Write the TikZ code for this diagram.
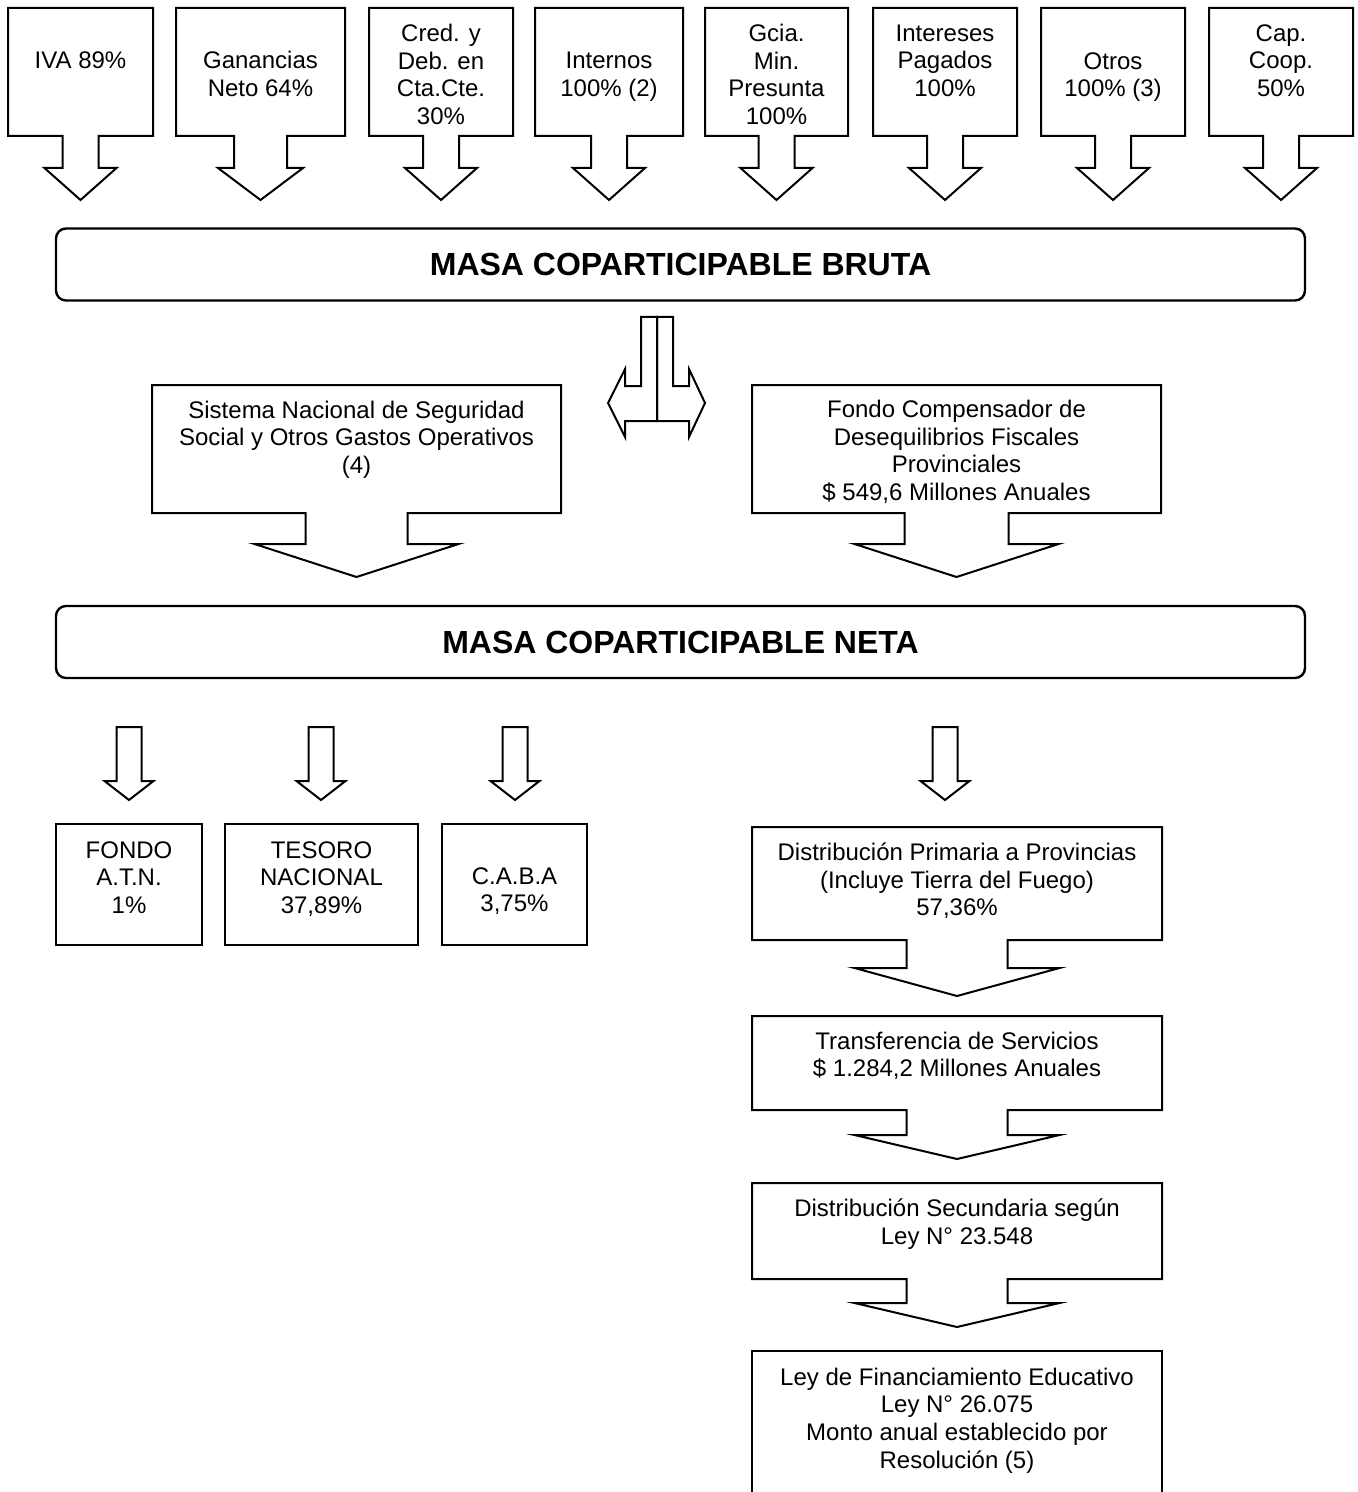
\documentclass[tikz,border=0pt]{standalone}
\usepackage{fontspec}
\setmainfont{Liberation Sans}
\usepackage{tikz}
\usetikzlibrary{positioning}

\tikzset{
  borde/.style={draw=black, line width=1pt, line join=miter},
  texto/.style={align=center, inner sep=0pt, font=\fontsize{12}{13.8}\selectfont},
  titulo/.style={draw=black, line width=1.2pt, rounded corners=5pt, minimum width=624.5pt,
    minimum height=36pt, inner sep=0pt, font=\fontsize{16}{19}\selectfont\bfseries},
}

% caja con flecha: x1, x2, y arriba, y abajo, medio ancho tallo, medio ancho punta, y base punta, y punta
\newcommand{\cajaflecha}[8]{%
  \pgfmathsetmacro{\cxm}{(#1+#2)/2}
  \draw[borde] (#1,#3) -- (#2,#3) -- (#2,#4) -- ({\cxm+#5},#4) -- ({\cxm+#5},#7)
    -- ({\cxm+#6},#7) -- (\cxm,#8) -- ({\cxm-#6},#7) -- ({\cxm-#5},#7) -- ({\cxm-#5},#4)
    -- (#1,#4) -- cycle;
}
\newcommand{\flechita}[1]{%
  \draw[borde] ({#1-12.5},727) -- ({#1+12.5},727) -- ({#1+12.5},781) -- ({#1+24.5},781)
    -- (#1,800) -- ({#1-24.5},781) -- ({#1-12.5},781) -- cycle;
}

\begin{document}
\begin{tikzpicture}[x=0.5pt, y=-0.5pt]
\useasboundingbox (0,0) rectangle (1357,1492);

\cajaflecha{8}{153}{8}{136}{18}{36}{168}{200}
\cajaflecha{176}{345}{8}{136}{26.5}{42.5}{168}{200}
\cajaflecha{369}{513}{8}{136}{18}{36}{168}{200}
\cajaflecha{535}{683}{8}{136}{18}{36}{168}{200}
\cajaflecha{705}{848}{8}{136}{18}{36}{168}{200}
\cajaflecha{873}{1017}{8}{136}{18}{36}{168}{200}
\cajaflecha{1041}{1185}{8}{136}{18}{36}{168}{200}
\cajaflecha{1209}{1353}{8}{136}{18}{36}{168}{200}

\node[texto] (iva) at (80.5,60) {IVA 89\%};
\node[texto] (ganancias) at (260.5,74) {Ganancias\\Neto 64\%};
\node[texto] (creditos) at (441,74.5) {Cred. y\\Deb. en\\Cta.Cte.\\30\%};
\node[texto] (internos) at (609,77) {Internos\\100\% (2)};
\node[texto] (gcia) at (776.5,74.5) {Gcia.\\Min.\\Presunta\\100\%};
\node[texto] (intereses) at (945,60.5) {Intereses\\Pagados\\100\%};
\node[texto] (otros) at (1113,77) {Otros\\100\% (3)};
\node[texto] (capcoop) at (1281,60.5) {Cap.\\Coop.\\50\%};

\node[titulo] (bruta) at (680.5,264.5) {MASA COPARTICIPABLE BRUTA};

\draw[borde] (657,317) -- (641,317) -- (641,386) -- (625,386) -- (625,369) -- (608,403)
  -- (625,437) -- (625,421) -- (657,421) -- cycle;
\draw[borde] (657,317) -- (673,317) -- (673,386) -- (689,386) -- (689,369) -- (705,403)
  -- (689,437) -- (689,421) -- (657,421) -- cycle;

\cajaflecha{152}{561}{385}{513}{51}{102}{544}{577}
\cajaflecha{752}{1161}{385}{513}{52}{102}{544}{577}
\node[texto] (sistema) at (356.5,439.5) {Sistema Nacional de Seguridad\\Social y Otros Gastos Operativos\\(4)};
\node[texto] (fondo) at (956.5,452) {Fondo Compensador de\\Desequilibrios Fiscales\\Provinciales\\\$ 549,6 Millones Anuales};

\node[titulo] (neta) at (680.5,642) {MASA COPARTICIPABLE NETA};

\flechita{129}
\flechita{321}
\flechita{515}
\flechita{945}

\draw[borde] (56,824) rectangle (202,945);
\draw[borde] (225,824) rectangle (418,945);
\draw[borde] (442,824) rectangle (587,945);
\node[texto] (atn) at (129,877.5) {FONDO\\A.T.N.\\1\%};
\node[texto] (tesoro) at (321.5,879) {TESORO\\NACIONAL\\37,89\%};
\node[texto] (caba) at (514.5,891) {C.A.B.A\\3,75\%};

\cajaflecha{752}{1162}{827}{940}{50.5}{102.5}{968}{996}
\cajaflecha{752}{1162}{1016}{1110}{50.5}{102.5}{1135}{1159}
\cajaflecha{752}{1162}{1183}{1279}{50.5}{102.5}{1303}{1327}
\draw[borde] (752,1492) -- (752,1351) -- (1162,1351) -- (1162,1492);

\node[texto] (primaria) at (957,881) {Distribución Primaria a Provincias\\(Incluye Tierra del Fuego)\\57,36\%};
\node[texto] (transferencia) at (957,1056) {Transferencia de Servicios\\\$ 1.284,2 Millones Anuales};
\node[texto] (secundaria) at (957,1224) {Distribución Secundaria según\\Ley N° 23.548};
\node[texto] (educativo) at (957,1420.5) {Ley de Financiamiento Educativo\\Ley N° 26.075\\Monto anual establecido por\\Resolución (5)};

\end{tikzpicture}
\end{document}
